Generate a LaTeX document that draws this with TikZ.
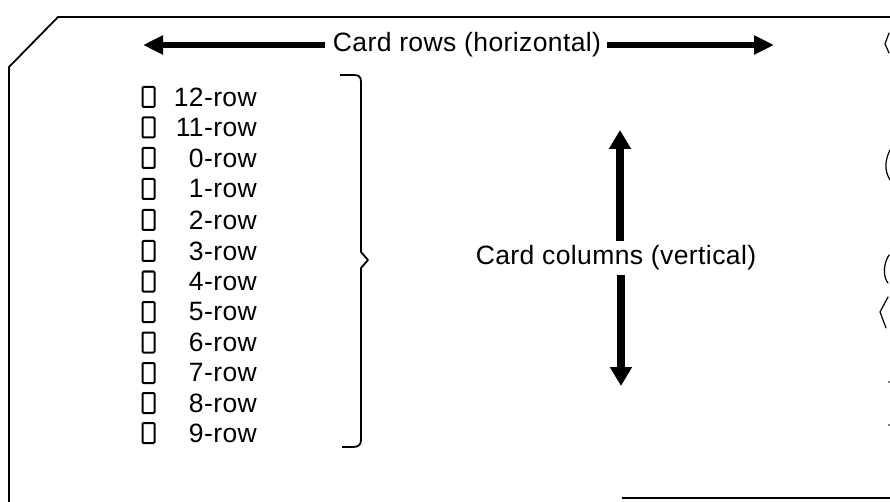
\documentclass[tikz,border=0pt]{standalone}
\usepackage{fontspec}
\setmainfont{Liberation Sans}[LetterSpace=1.5]
\usetikzlibrary{arrows.meta}
\begin{document}
\begin{tikzpicture}[x=1pt,y=-1pt,
  edge/.style={line width=1.8pt, line join=round},
  thin edge/.style={line width=1.2pt, line cap=round, line join=round},
  hole/.style={draw, line width=2pt, minimum width=12pt, minimum height=20pt, inner sep=0pt, rounded corners=1pt},
  rowlbl/.style={anchor=east, inner sep=0pt, font=\fontsize{26.5}{30}\selectfont},
  lbl/.style={inner sep=0pt, font=\fontsize{26.5}{30}\selectfont},
  harrow/.style={line width=5.5pt, -{Triangle[length=20pt,width=18pt]}},
  varrow/.style={line width=8pt, -{Triangle[length=19pt,width=21pt]}}
]
\useasboundingbox (0,0) rectangle (890,502);
% card outline
\draw[edge] (890,17) -- (58,17) -- (9,67) -- (9,502);
\draw[edge] (622,498) -- (890,498);
% right edge fragments
\draw[thin edge] (889,33) -- (885,44) -- (889,53);
\draw[thin edge] (890,150) .. controls (885,160) and (884,170) .. (890,180);
\draw[thin edge] (889,255) .. controls (883,264) and (883,277) .. (888,283);
\draw[thin edge] (888,297) -- (880,312) -- (886,328);
\fill (889,382) circle (0.8pt);
\fill (889,425) circle (0.8pt);
% horizontal label and arrows
\node[lbl] (rowsLabel) at (467,45) {Card rows (horizontal)};
\coordinate (hl) at (143,45);
\coordinate (hr) at (774,45);
\draw[harrow] ([xshift=-8pt]rowsLabel.west) -- (hl);
\draw[harrow] ([xshift=6pt]rowsLabel.east) -- (hr);
% vertical label and arrows
\node[lbl] (colsLabel) at (616,258) {Card columns (vertical)};
\coordinate (vt) at (620,130);
\coordinate (vb) at (621,386);
\draw[varrow] (620,241) -- (vt);
\draw[varrow] (621,275) -- (vb);
% rows
\foreach \lab/\y [count=\i] in {12/97,11/127.5,0/158,1/189,2/220,3/251,4/281.5,5/312,6/342.5,7/373,8/403,9/433}{
  \node[hole] (h\i) at (148.5,\y) {};
  \node[rowlbl] (r\i) at (257,\y) {\lab-row};
}
% brace
\draw[edge] (340,75) -- (354,75) .. controls (359,75) and (361,77) .. (361,82)
  -- (361,252) -- (368,260) -- (361,268) -- (361,440)
  .. controls (361,445) and (358,447) .. (353,447) -- (342,447);
\end{tikzpicture}
\end{document}
